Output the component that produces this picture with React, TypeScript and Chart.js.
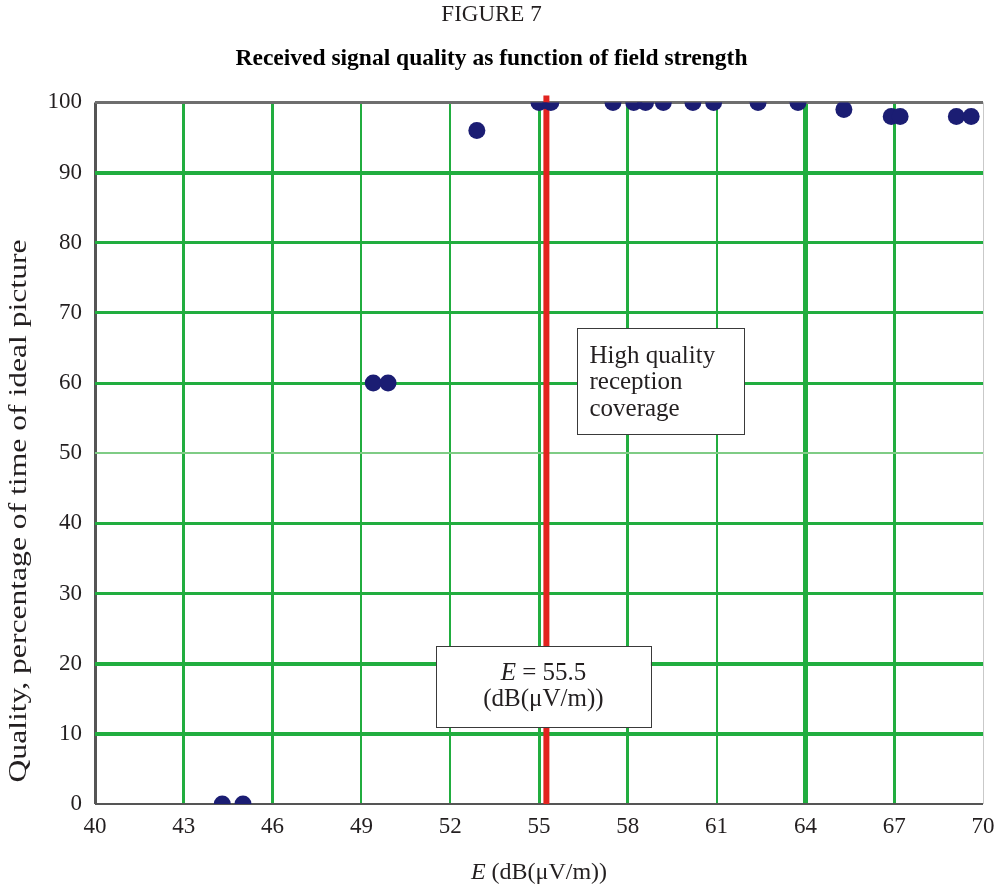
import React, { useEffect, useRef } from 'react';
import { Chart, registerables } from 'chart.js';

Chart.register(...registerables);

// ---- Data ----
const fieldStrength = [44.3, 45.0, 49.4, 49.9, 52.9, 55.0, 55.4, 57.5, 58.2, 58.6, 59.2, 60.2, 60.9, 62.4, 63.75, 65.3, 66.9, 67.2, 69.1, 69.6];
const quality = [0, 0, 60, 60, 96, 100, 100, 100, 100, 100, 100, 100, 100, 100, 100, 99, 98, 98, 98, 98];
const thresholdE = 55.25;
const thresholdSpan = [0, 101];
const xTickValues = [40, 43, 46, 49, 52, 55, 58, 61, 64, 67, 70];
const yTickValues = [0, 10, 20, 30, 40, 50, 60, 70, 80, 90, 100];

const titleText = 'FIGURE 7';
const subtitleText = 'Received signal quality as function of field strength';
const yTitleText = 'Quality, percentage of time of ideal picture';
const xTitleItalic = 'E';
const xTitleRest = ' (dB(\u03bcV/m))';
const coverageLines = ['High quality', 'reception', 'coverage'];
const thresholdLines = ['= 55.5', '(dB(\u03bcV/m))'];

const SERIF = "'Liberation Serif', 'Times New Roman', serif";
const GREEN = '#21ad3f';
const TEXT = '#231f20';

const xGridWidth: Record<number, number> = { 40: 3, 43: 3, 46: 3, 49: 2, 52: 2, 55: 3, 58: 3, 61: 2, 64: 5, 67: 3, 70: 1 };
const yGridWidth: Record<number, number> = { 0: 2, 10: 4, 20: 4, 30: 3, 40: 3, 50: 2, 60: 3, 70: 3, 80: 3, 90: 4, 100: 3 };

function drawBox(ctx: CanvasRenderingContext2D, l: number, t: number, r: number, b: number) {
  ctx.save();
  ctx.fillStyle = '#ffffff';
  ctx.fillRect(l, t, r - l, b - t);
  ctx.strokeStyle = '#3a3a3a';
  ctx.lineWidth = 1;
  ctx.strokeRect(Math.round(l) + 0.5, Math.round(t) + 0.5, Math.round(r - l), Math.round(b - t));
  ctx.restore();
}

const overlayPlugin = {
  id: 'overlay',
  afterDatasetsDraw(chart: any) {
    const { ctx, scales } = chart;
    const x = scales.x;
    const y = scales.y;
    // Coverage box
    const l1 = x.getPixelForValue(56.3), r1 = x.getPixelForValue(61.95);
    const t1 = y.getPixelForValue(67.8), b1 = y.getPixelForValue(52.7);
    drawBox(ctx, l1, t1, r1, b1);
    ctx.save();
    ctx.fillStyle = TEXT;
    ctx.font = `25px ${SERIF}`;
    ctx.textAlign = 'left';
    ctx.textBaseline = 'middle';
    coverageLines.forEach((s, i) => ctx.fillText(s, l1 + 12, t1 + 28 + i * 26.5));
    ctx.restore();

    // Threshold box
    const l2 = x.getPixelForValue(51.52), r2 = x.getPixelForValue(58.78);
    const t2 = y.getPixelForValue(22.5), b2 = y.getPixelForValue(10.9);
    drawBox(ctx, l2, t2, r2, b2);
    ctx.save();
    ctx.fillStyle = TEXT;
    ctx.textBaseline = 'middle';
    const cx = (l2 + r2) / 2;
    ctx.font = `italic 25px ${SERIF}`;
    const wE = ctx.measureText('E').width;
    ctx.font = `25px ${SERIF}`;
    const wRest = ctx.measureText(' ' + thresholdLines[0]).width;
    const start = cx - (wE + wRest) / 2;
    ctx.textAlign = 'left';
    ctx.font = `italic 25px ${SERIF}`;
    ctx.fillText('E', start, t2 + 27);
    ctx.font = `25px ${SERIF}`;
    ctx.fillText(' ' + thresholdLines[0], start + wE, t2 + 27);
    ctx.textAlign = 'center';
    ctx.fillText(thresholdLines[1], cx, t2 + 53);
    ctx.restore();
  },
  afterDraw(chart: any) {
    const { ctx, chartArea } = chart;
    ctx.save();
    ctx.fillStyle = TEXT;
    ctx.textBaseline = 'middle';
    // X title
    const cx = (chartArea.left + chartArea.right) / 2;
    ctx.font = `italic 24px ${SERIF}`;
    const wE = ctx.measureText(xTitleItalic).width;
    ctx.font = `24px ${SERIF}`;
    const wR = ctx.measureText(xTitleRest).width;
    const sx = cx - (wE + wR) / 2;
    ctx.textAlign = 'left';
    ctx.font = `italic 24px ${SERIF}`;
    ctx.fillText(xTitleItalic, sx, 873);
    ctx.font = `24px ${SERIF}`;
    ctx.fillText(xTitleRest, sx + wE, 873);
    // Y title (fitted along its length to match the original)
    ctx.translate(19, 511);
    ctx.rotate(-Math.PI / 2);
    ctx.textAlign = 'center';
    ctx.font = `26px ${SERIF}`;
    const wY = ctx.measureText(yTitleText).width;
    const target = 543;
    ctx.scale(target / wY, 1);
    ctx.fillText(yTitleText, 0, 0);
    ctx.restore();
  },
};

export default function App() {
  const canvasRef = useRef<HTMLCanvasElement | null>(null);

  useEffect(() => {
    if (!canvasRef.current) return;
    const chart = new Chart(canvasRef.current, {
      type: 'scatter',
      data: {
        datasets: [
          {
            type: 'line',
            label: 'threshold',
            data: thresholdSpan.map((v) => ({ x: thresholdE, y: v })),
            borderColor: '#e2231f',
            borderWidth: 6,
            pointRadius: 0,
            clip: false as any,
            order: 2,
          } as any,
          {
            label: 'quality',
            data: fieldStrength.map((v, i) => ({ x: v, y: quality[i] })),
            backgroundColor: '#1b1d73',
            borderColor: '#1b1d73',
            borderWidth: 0,
            pointRadius: 8.5,
            clip: 0 as any,
            order: 1,
          },
        ],
      },
      options: {
        animation: false,
        responsive: true,
        maintainAspectRatio: false,
        layout: { padding: { left: 0, right: 14, top: 0, bottom: 0 } },
        plugins: {
          legend: { display: false },
          tooltip: { enabled: false },
          title: {
            display: true,
            text: titleText,
            color: TEXT,
            font: { family: SERIF, size: 23, weight: 'normal', lineHeight: 1.2 },
            padding: { top: 1, bottom: 0 },
          },
          subtitle: {
            display: true,
            text: subtitleText,
            color: '#000',
            font: { family: SERIF, size: 23.5, weight: 'bold', lineHeight: 1.2 },
            padding: { top: 16, bottom: 29.6 },
          },
        },
        scales: {
          x: {
            type: 'linear',
            min: 40,
            max: 70,
            afterBuildTicks: (s: any) => { s.ticks = xTickValues.map((v) => ({ value: v })); },
            afterFit: (s: any) => { s.height = 84; },
            border: { display: false },
            grid: {
              drawTicks: true,
              tickLength: 9,
              tickColor: 'rgba(0,0,0,0)',
              color: (c: any) => (c.tick?.value === 40 ? '#555555' : c.tick?.value === 70 ? '#c9c9c9' : GREEN),
              lineWidth: (c: any) => xGridWidth[c.tick?.value] ?? 2,
            },
            ticks: {
              color: TEXT,
              font: { family: SERIF, size: 23 },
              padding: 0,
              maxRotation: 0,
              autoSkip: false,
            },
          },
          y: {
            type: 'linear',
            min: 0,
            max: 100,
            afterBuildTicks: (s: any) => { s.ticks = yTickValues.map((v) => ({ value: v })); },
            afterFit: (s: any) => { s.width = 95; },
            border: { display: false },
            grid: {
              drawTicks: false,
              color: (c: any) => (c.tick?.value === 0 ? '#555555' : c.tick?.value === 100 ? '#6e6e6e' : c.tick?.value === 50 ? '#7fcc85' : GREEN),
              lineWidth: (c: any) => yGridWidth[c.tick?.value] ?? 2,
            },
            ticks: {
              color: TEXT,
              font: { family: SERIF, size: 23 },
              padding: 13,
              autoSkip: false,
            },
          },
        },
      },
      plugins: [overlayPlugin],
    });
    return () => chart.destroy();
  }, []);

  return (
    <div style={{ position: 'fixed', left: 0, top: 0, width: 997, height: 888, background: '#fff' }}>
      <canvas ref={canvasRef} style={{ display: 'block' }} />
    </div>
  );
}
